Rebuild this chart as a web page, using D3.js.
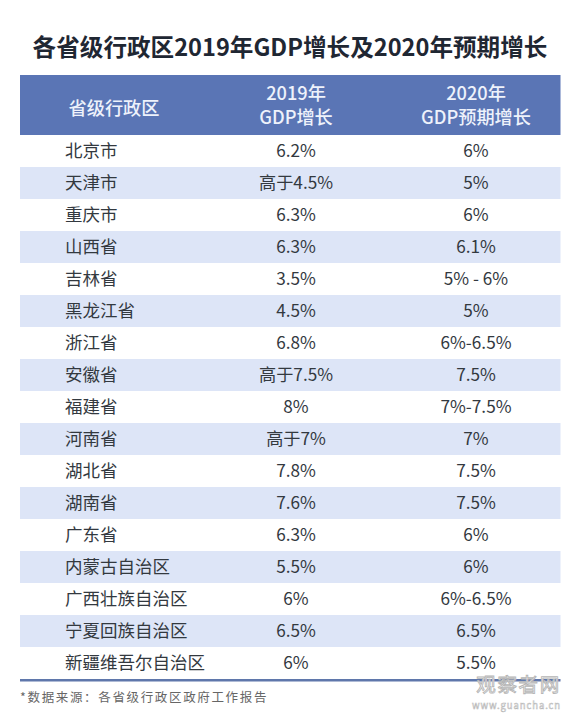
<!DOCTYPE html>
<html><head><meta charset="utf-8">
<script src="https://cdn.jsdelivr.net/npm/d3@7"></script>
<style>html,body{margin:0;padding:0;background:#fff}svg{display:block}text{font-family:"Noto Sans CJK SC","Noto Sans",sans-serif}</style>
</head><body><div id="c"></div>
<script>
const regions=["北京市","天津市","重庆市","山西省","吉林省","黑龙江省","浙江省","安徽省","福建省","河南省","湖北省","湖南省","广东省","内蒙古自治区","广西壮族自治区","宁夏回族自治区","新疆维吾尔自治区"];
const growth2019=["6.2%","高于4.5%","6.3%","6.3%","3.5%","4.5%","6.8%","高于7.5%","8%","高于7%","7.8%","7.6%","6.3%","5.5%","6%","6.5%","6%"];
const target2020=["6%","5%","6%","6.1%","5% - 6%","5%","6%-6.5%","7.5%","7%-7.5%","7%","7.5%","7.5%","6%","6%","6%-6.5%","6.5%","5.5%"];
const headers=[["省级行政区"],["2019年","GDP增长"],["2020年","GDP预期增长"]];
const title="各省级行政区2019年GDP增长及2020年预期增长";
const source="*数据来源：各省级行政区政府工作报告";

const W=580,H=726;
const svg=d3.select("#c").append("svg").attr("width",W).attr("height",H);
const L=20,R=560.5,HT=75,HB=135,BT=135,BB=679;
const y=d3.scaleBand().domain(regions).range([BT,BB]);
const colX=d3.scaleOrdinal().domain(["a","b","c"]).range([114,296,476]);

svg.append("text").attr("x",290).attr("y",56).attr("text-anchor","middle")
  .attr("font-size",23.6).attr("font-weight",700).attr("fill","#1f2733").text(title);

svg.append("rect").attr("x",L).attr("y",HT).attr("width",R-L).attr("height",HB-HT).attr("fill","#5a75b5");
headers.forEach((h,i)=>{
  const x=colX(["a","b","c"][i]);
  h.forEach((t,j)=>{
    svg.append("text").attr("x",x).attr("text-anchor","middle")
      .attr("y",h.length===1?115:(100+j*24))
      .attr("font-size",18.2).attr("font-weight",500).attr("fill","#eef2fb").text(t);
  });
});

const rows=svg.append("g").selectAll("g").data(regions).join("g")
  .attr("transform",d=>`translate(0,${y(d)})`);
rows.filter((d,i)=>i%2===1).append("rect").attr("x",L).attr("width",R-L).attr("height",y.bandwidth()).attr("fill","#dde5f7");
rows.append("text").attr("x",65).attr("y",22).attr("font-size",17.5).attr("fill","#33393f").text(d=>d);
rows.append("text").attr("x",colX("b")).attr("y",22).attr("text-anchor","middle").attr("font-size",17.2).attr("fill","#33393f").text((d,i)=>growth2019[i]);
rows.append("text").attr("x",colX("c")).attr("y",22).attr("text-anchor","middle").attr("font-size",17.2).attr("fill","#33393f").text((d,i)=>target2020[i]);

svg.append("rect").attr("x",L).attr("y",679).attr("width",R-L).attr("height",2.5).attr("fill","#5f77ab");
svg.append("text").attr("x",L).attr("y",702).attr("font-size",12.5).attr("letter-spacing",1.65).attr("fill","#666").text(source);

svg.append("text").attr("x",561).attr("y",692).attr("text-anchor","end").attr("font-size",19.5).attr("letter-spacing",1.7)
  .attr("fill","#fff").attr("stroke","#b5b5b5").attr("stroke-width",0.9).text("观察者网");
svg.append("text").attr("x",561).attr("y",709).attr("text-anchor","end").attr("font-size",9.5).attr("letter-spacing",0.9)
  .attr("fill","#fff").attr("stroke","#b5b5b5").attr("stroke-width",0.5).text("www.guancha.cn");
</script></body></html>
